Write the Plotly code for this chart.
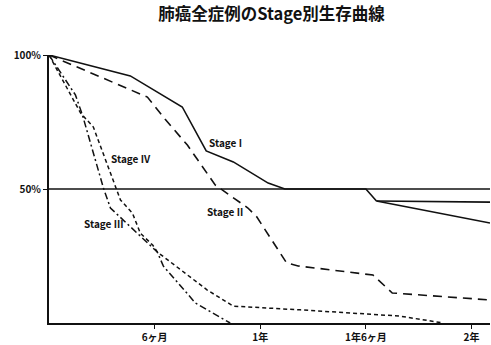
import plotly.graph_objects as go

# months after treatment, survival %
stage1_months = [0, 4.62, 7.57, 8.93, 10.47, 12.45, 13.4, 18.0, 18.6]
stage1_pct = [100, 92.2, 80.6, 64.2, 60.1, 52.2, 50, 50, 45.5]
stage1_end_month = 25.05
stage1_upper_end = 45.1
stage1_lower_end = 37.3

stage2_months = [0, 5.59, 6.6, 7.86, 9.44, 11.3, 11.8, 13.5, 14.15, 18.4, 19.5, 25.05]
stage2_pct = [100, 84.3, 76.0, 66.4, 51.5, 42.9, 39.6, 22.4, 21.3, 17.9, 11.2, 8.6]

stage3_months = [0, 1.50, 1.90, 3.09, 3.49, 5.19, 6.15, 6.49, 8.31, 10.29]
stage3_pct = [100, 85.1, 77.6, 50.4, 42.9, 32.5, 26.5, 21.3, 7.5, 0]

stage4_months = [0, 1.79, 2.52, 3.66, 4.06, 4.74, 5.19, 5.90, 6.15, 8.99, 10.47, 14.27, 19.9, 22.4]
stage4_pct = [100, 78.4, 73.1, 53.4, 45.9, 41.0, 33.5, 29.0, 26.5, 12.3, 6.3, 4.9, 2.6, 0]

reference_pct = 50
x_tick_vals = [6, 12, 18, 24]
x_tick_text = ["6ヶ月", "1年", "1年6ヶ月", "2年"]
y_tick_vals = [50, 100]
y_tick_text = ["50%", "100%"]

labels = ["Stage I", "Stage II", "Stage III", "Stage IV"]
label_months = [8.95, 8.85, 1.85, 3.4]
label_pct = [67.5, 41.5, 37, 61.5]

FONT = "Noto Sans CJK JP, Noto Sans, sans-serif"
black = "#111111"

fig = go.Figure()
fig.add_trace(go.Scatter(x=stage1_months, y=stage1_pct, mode="lines",
                         line=dict(color=black, width=1.6), hoverinfo="skip"))
fig.add_trace(go.Scatter(x=[stage1_months[-1], stage1_end_month],
                         y=[stage1_pct[-1], stage1_upper_end], mode="lines",
                         line=dict(color=black, width=1.6), hoverinfo="skip"))
fig.add_trace(go.Scatter(x=[stage1_months[-1], stage1_end_month],
                         y=[stage1_pct[-1], stage1_lower_end], mode="lines",
                         line=dict(color=black, width=1.6), hoverinfo="skip"))
fig.add_trace(go.Scatter(x=stage2_months, y=stage2_pct, mode="lines",
                         line=dict(color=black, width=1.6, dash="9px,6px"), hoverinfo="skip"))
fig.add_trace(go.Scatter(x=stage3_months, y=stage3_pct, mode="lines",
                         line=dict(color=black, width=1.5, dash="7px,3px,2px,3px"), hoverinfo="skip"))
fig.add_trace(go.Scatter(x=stage4_months, y=stage4_pct, mode="lines",
                         line=dict(color=black, width=1.5, dash="4px,3px"), hoverinfo="skip"))

fig.add_hline(y=reference_pct, line=dict(color=black, width=1.6))

for t, xm, yp in zip(labels, label_months, label_pct):
    fig.add_annotation(x=xm, y=yp, text=t, showarrow=False, xanchor="left",
                       font=dict(family=FONT, size=10, color=black, weight="bold"))

fig.update_layout(
    width=491, height=345,
    margin=dict(l=49, r=1, t=55, b=22),
    paper_bgcolor="white", plot_bgcolor="white",
    showlegend=False,
    title=dict(text="肺癌全症例のStage別生存曲線", x=0.553, xanchor="center",
               y=0.96, yanchor="middle",
               font=dict(family=FONT, size=16.5, color=black, weight="bold")),
    xaxis=dict(range=[0, 25.05], showgrid=False, zeroline=False, automargin=False,
               showline=True, linecolor=black, linewidth=2,
               tickvals=x_tick_vals, ticktext=x_tick_text,
               ticks="outside", ticklen=4, tickcolor=black, tickwidth=1,
               tickfont=dict(family=FONT, size=10, color=black, weight="bold")),
    yaxis=dict(range=[0, 100], showgrid=False, zeroline=False, automargin=False,
               showline=True, linecolor=black, linewidth=2,
               tickvals=y_tick_vals, ticktext=y_tick_text,
               ticks="outside", ticklen=4, tickcolor=black, tickwidth=1,
               tickfont=dict(family=FONT, size=10, color=black, weight="bold")),
)

fig.write_html("out.html", config={"displayModeBar": False},
               post_script="document.body.style.margin='0px';")
